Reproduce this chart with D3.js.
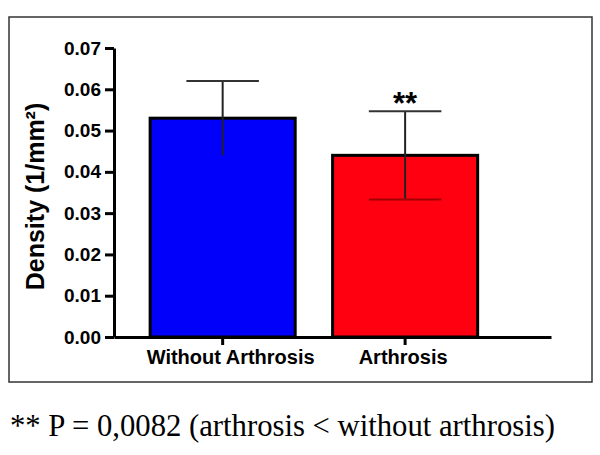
<!DOCTYPE html>
<html>
<head>
<meta charset="utf-8">
<script src="https://cdnjs.cloudflare.com/ajax/libs/d3/7.8.5/d3.min.js"></script>
<style>
  body { margin: 0; background: #fff; }
  svg text { font-family: Arial, "Liberation Sans", sans-serif; }
</style>
</head>
<body>
<div id="chart"></div>
<script>
// data
const groups = ['Without Arthrosis', 'Arthrosis'];
const means = [0.053, 0.044];
const sds = [0.009, 0.0107];
const barColors = ['#0000fb', '#ff0010'];
const yTicks = [0, 0.01, 0.02, 0.03, 0.04, 0.05, 0.06, 0.07];
const note = '** P = 0,0082 (arthrosis < without arthrosis)';

const width = 600;
const height = 455;
const margin = { top: 48, right: 49, bottom: 118, left: 114 };

const svg = d3.select('#chart')
  .append('svg')
  .attr('width', width)
  .attr('height', height);

// outer frame
svg.append('rect')
  .attr('x', 9)
  .attr('y', 17)
  .attr('width', 583)
  .attr('height', 365)
  .attr('fill', 'none')
  .attr('stroke', '#333')
  .attr('stroke-width', 1.5);

const x = d3.scaleBand()
  .domain(groups)
  .range([margin.left, width - margin.right])
  .paddingInner(0.205)
  .paddingOuter(0.3)
  .align(0.33);

const y = d3.scaleLinear()
  .domain([0, 0.07])
  .range([height - margin.bottom, margin.top]);

const g = svg.append('g');

// bars
g.selectAll('rect.bar')
  .data(groups)
  .enter()
  .append('rect')
  .attr('class', 'bar')
  .attr('x', (d) => x(d))
  .attr('y', (d, i) => y(means[i]))
  .attr('width', x.bandwidth())
  .attr('height', (d, i) => y(0) - y(means[i]))
  .attr('fill', (d, i) => barColors[i])
  .attr('stroke', '#000')
  .attr('stroke-width', 3);

// error bars
const capW = x.bandwidth() / 2;
groups.forEach((d, i) => {
  const cx = x(d) + x.bandwidth() / 2;
  g.append('line')
    .attr('x1', cx).attr('x2', cx)
    .attr('y1', y(means[i] + sds[i]))
    .attr('y2', y(means[i] - sds[i]))
    .attr('stroke', '#222')
    .attr('stroke-width', 2);
  g.append('line')
    .attr('x1', cx - capW / 2).attr('x2', cx + capW / 2)
    .attr('y1', y(means[i] + sds[i]))
    .attr('y2', y(means[i] + sds[i]))
    .attr('stroke', '#333')
    .attr('stroke-width', 2);
  if (i === 1) {
    g.append('line')
      .attr('x1', cx - capW / 2).attr('x2', cx + capW / 2)
      .attr('y1', y(means[i] - sds[i]))
      .attr('y2', y(means[i] - sds[i]))
      .attr('stroke', '#a00000')
      .attr('stroke-width', 2);
  }
});

// significance stars
g.append('text')
  .attr('x', x(groups[1]) + x.bandwidth() / 2)
  .attr('y', y(means[1] + sds[1]) + 3)
  .attr('text-anchor', 'middle')
  .style('font-size', '31px')
  .style('font-weight', 'bold')
  .text('**');

// y axis
const yAxis = svg.append('g')
  .attr('transform', `translate(${margin.left},0)`)
  .call(d3.axisLeft(y).tickValues(yTicks).tickFormat(d3.format('.2f')).tickSize(9).tickSizeOuter(0));
yAxis.select('.domain').attr('stroke', '#000').attr('stroke-width', 3);
yAxis.selectAll('.tick line').attr('stroke', '#000').attr('stroke-width', 3);
yAxis.selectAll('.tick text')
  .attr('x', -13)
  .attr('fill', '#000')
  .style('font-size', '19px')
  .style('font-weight', 'bold')
  .style('font-family', 'Arial, "Liberation Sans", sans-serif');

// x axis
const xAxis = svg.append('g')
  .attr('transform', `translate(0,${height - margin.bottom})`)
  .call(d3.axisBottom(x).tickSize(8).tickSizeOuter(0));
xAxis.select('.domain').attr('stroke', '#000').attr('stroke-width', 3);
xAxis.selectAll('.tick line').attr('stroke', '#000').attr('stroke-width', 3);
xAxis.selectAll('.tick text')
  .attr('y', 13)
  .attr('dx', (d, i) => (i === 0 ? 8 : -2))
  .attr('fill', '#000')
  .style('font-size', '20px')
  .style('font-weight', 'bold')
  .style('font-family', 'Arial, "Liberation Sans", sans-serif');

// y axis title
svg.append('text')
  .attr('transform', `translate(44,${(y(0) + y(0.07)) / 2 + 4}) rotate(-90)`)
  .attr('text-anchor', 'middle')
  .style('font-size', '25px')
  .style('font-weight', 'bold')
  .text('Density (1/mm²)');

// footnote
svg.append('text')
  .attr('x', 10)
  .attr('y', 436)
  .style('font-family', '"Liberation Serif", "Times New Roman", serif')
  .style('font-size', '30.7px')
  .text(note);
</script>
</body>
</html>
